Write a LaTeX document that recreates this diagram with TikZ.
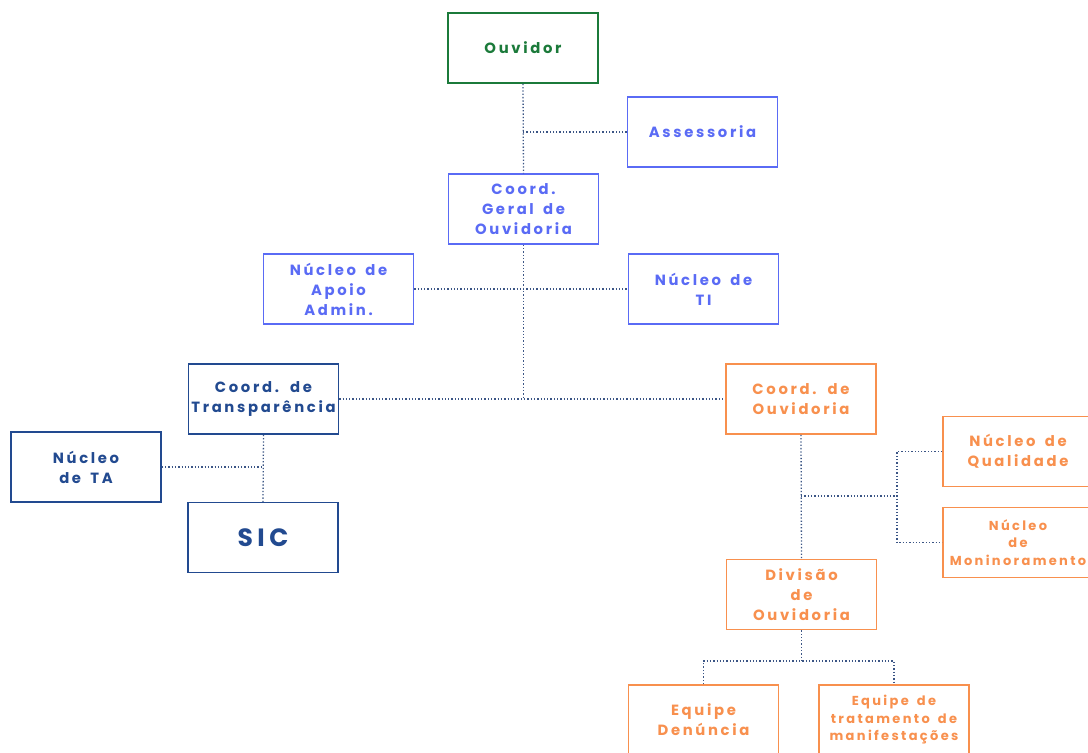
\documentclass[tikz,border=0pt]{standalone}
\usepackage{fontspec}
\setmainfont{Poppins}[LetterSpace=18,WordSpace=1.6]
\definecolor{cgreen}{HTML}{1B7A3A}
\definecolor{clight}{HTML}{5A6BF5}
\definecolor{cdark}{HTML}{224A90}
\definecolor{corange}{HTML}{F8904E}
\definecolor{cline}{HTML}{3B5585}
\tikzset{
  box/.style={draw, line width=1.5pt, minimum width=150pt, minimum height=70pt, inner sep=0pt, align=center, font=\bfseries\fontsize{14.8}{20}\selectfont},
  gbox/.style={box, draw=cgreen, text=cgreen},
  lbox/.style={box, draw=clight, text=clight},
  dbox/.style={box, draw=cdark, text=cdark},
  obox/.style={box, draw=corange, text=corange},
  smallfont/.style={font=\bfseries\fontsize{13}{17.5}\selectfont},
  conn/.style={draw=cline, line width=1.3pt, dotted}
}
\begin{document}
\begin{tikzpicture}[x=1pt,y=-1pt]
\clip (0,0) rectangle (1088,753);
\fill[white] (0,0) rectangle (1088,753);
\node[gbox] (ouv) at (523,48) {Ouvidor};
\node[lbox] (ass) at (702.5,132) {Assessoria};
\node[lbox] (cg) at (523.5,209) {Coord.\\Geral de\\Ouvidoria};
\node[lbox] (apoio) at (338.5,289) {Núcleo de\\Apoio\\Admin.};
\node[lbox] (ti) at (703.5,289) {Núcleo de\\TI};
\node[dbox] (transp) at (263.5,399) {Coord. de\\Transparência};
\node[obox] (cov) at (801,399) {Coord. de\\Ouvidoria};
\node[dbox] (ta) at (86,467) {Núcleo\\de TA};
\node[dbox, font=\bfseries\fontsize{25}{28}\selectfont] (sic) at (263,537.5) {SIC};
\node[obox] (qual) at (1018,451.5) {Núcleo de\\Qualidade};
\node[obox, smallfont] (mon) at (1018,542.5) {Núcleo\\de\\Moninoramento};
\node[obox] (div) at (801.5,594.5) {Divisão\\de\\Ouvidoria};
\node[obox] (eqd) at (703.5,720) {Equipe\\Denúncia};
\node[obox, smallfont] (eqt) at (894,720) {Equipe de\\tratamento de\\manifestações};
% connectors
\draw[conn] (ouv.south) -- (cg.north);
\draw[conn] (ass.west) -- (ass.west -| ouv.south);
\coordinate (hub) at (cg.south |- transp.east);
\draw[conn] (cg.south) -- (hub);
\draw[conn] (apoio.east) -- (ti.west);
\draw[conn] (transp.east) -- (cov.west);
\draw[conn] (transp.south) -- (sic.north);
\draw[conn] (ta.east) -- (ta.east -| transp.south);
\draw[conn] (cov.south) -- (div.north);
\coordinate (mid) at (897,496);
\draw[conn] (cov.south |- mid) -- (mid);
\draw[conn] (qual.west) -| (mid) |- (mon.west);
\coordinate (split) at (div.south |- 0,661);
\draw[conn] (div.south) -- (split);
\draw[conn] (eqd.north) |- (split) -| (eqt.north);
\end{tikzpicture}
\end{document}
